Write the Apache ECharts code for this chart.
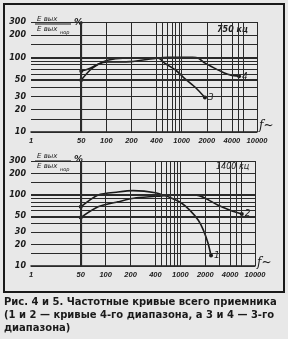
<!DOCTYPE html>
<html>
<head>
<meta charset="utf-8">
<script src="https://cdn.jsdelivr.net/npm/echarts@6/dist/echarts.min.js"></script>
<style>
html,body{margin:0;padding:0;background:#e8e8e8;}
#c{width:288px;height:339px;}
</style>
</head>
<body>
<div id="c"></div>
<script>
// ---- data ----
const xTickFreqs = [50, 100, 200, 400, 1000, 2000, 4000, 10000];
const xTickLabels = ['50', '100', '200', '400', '1000', '2000', '4000', '10000'];
const xOriginLabel = '1';
const yTickValues = [10, 20, 30, 50, 100, 200, 300];
const hGridValues = [10, 15, 20, 30, 40, 50, 60, 70, 80, 90, 100, 150, 200, 300];
const vGridFreqs = [50, 100, 200, 400, 500, 600, 700, 800, 900, 1000, 2000, 3000, 4000, 5000, 6000, 10000];

// top panel: 750 кц (curves 3 and 4)
const c3Freq = [50, 64, 81, 103, 158, 430, 537, 800, 1072, 1485, 1900];
const c3Val  = [50, 68, 82, 92, 98, 98, 84, 68, 53, 39, 29];
const c4Freq = [50, 64, 81, 103, 194, 400, 622, 1350, 1590, 1910, 2470, 3250, 3900, 5200];
const c4Val  = [66, 72, 82, 87, 88, 98, 101, 101, 98, 84, 72, 62, 58, 56];
// bottom panel: 1400 кц (curves 1 and 2)
const c1Freq = [50, 81, 141, 214, 400, 730, 1030, 1300, 1650, 1900, 2160, 2350];
const c1Val  = [68, 100, 110, 115, 107, 90, 77, 61, 44, 32, 21, 14];
const c2Freq = [50, 81, 141, 234, 500, 910, 1500, 2000, 2830, 4000, 6150];
const c2Val  = [48, 68, 80, 91, 97, 100, 100, 90, 72, 61, 54];

const panelTitles = ['750 кц', '1400 кц'];
const curveNames = ['3', '4', '1', '2'];
const caption = [
  'Рис. 4 и 5. Частотные кривые всего приемника',
  '(1 и 2 — кривые 4-го диапазона, а 3 и 4 — 3-го',
  'диапазона)'
];

// ---- axis mapping (frequency -> tick index of the drawn scale) ----
function xPos(f) {
  const t = xTickFreqs;
  if (f <= t[0]) return 0;
  for (let i = 0; i < t.length - 1; i++) {
    if (f <= t[i + 1]) return i + Math.log(f / t[i]) / Math.log(t[i + 1] / t[i]);
  }
  return t.length - 1;
}
function pts(fr, v) { return fr.map((f, i) => [xPos(f), v[i]]); }

const ink = '#1a1a1a';
const bg = '#e8e8e8';
const yLabelFont = {fontFamily: 'DejaVu Sans', fontStyle: 'italic', fontWeight: 'bold', fontSize: 8, color: ink};
const xLabelFont = {fontFamily: 'Liberation Sans', fontStyle: 'italic', fontWeight: 'bold', fontSize: 7.5, color: ink};

function xAxisCfg(gi) {
  return {
    gridIndex: gi, type: 'value', min: -2, max: 7, interval: 1,
    axisLine: {show: true, lineStyle: {color: ink, width: 1.5}},
    axisTick: {show: false}, splitLine: {show: false},
    axisLabel: Object.assign({
      margin: 5, interval: 0,
      formatter: v => v === -2 ? xOriginLabel : (v >= 0 ? xTickLabels[v] : '')
    }, xLabelFont)
  };
}
function yAxisCfg(gi) {
  return {
    gridIndex: gi, type: 'log', logBase: 10, min: 10, max: 300,
    axisLine: {show: true, lineStyle: {color: ink, width: 1.2}},
    axisTick: {show: false}, splitLine: {show: false},
    axisLabel: Object.assign({margin: 5, customValues: yTickValues}, yLabelFont)
  };
}
function gridLines() {
  const d = [];
  hGridValues.forEach(v => d.push({yAxis: v, lineStyle: {width: (v === 100 || v === 50) ? 2 : 1}}));
  vGridFreqs.forEach(f => d.push({xAxis: xPos(f), lineStyle: {width: f === 50 ? 2 : 1}}));
  return {silent: true, symbol: 'none', label: {show: false}, animation: false,
          lineStyle: {color: '#2a2a2a', type: 'solid', width: 1}, emphasis: {disabled: true}, data: d};
}
function curve(name, data, gi, withGrid) {
  const n = data.length;
  const s = {
    type: 'line', name: name, xAxisIndex: gi, yAxisIndex: gi, data: data,
    smooth: 0.25, animation: false,
    lineStyle: {color: ink, width: 1.6},
    itemStyle: {color: ink},
    symbol: 'circle',
    symbolSize: (v, p) => (p.dataIndex === 0 || p.dataIndex === n - 1) ? 4 : 0,
    endLabel: {show: true, formatter: name, distance: 3,
               fontFamily: 'DejaVu Sans', fontStyle: 'italic', fontSize: 9, color: ink}
  };
  if (withGrid) s.markLine = gridLines();
  return s;
}

const chart = echarts.init(document.getElementById('c'), null, {renderer: 'canvas'});
const tFont = 'italic 7px "DejaVu Sans"';
function fraction(x, y) {
  return [
    {type: 'text', left: x + 2, top: y - 8, style: {text: 'E вых', font: tFont, fill: ink}},
    {type: 'line', shape: {x1: x, y1: y, x2: x + 36, y2: y}, style: {stroke: ink, lineWidth: 1}},
    {type: 'text', left: x + 2, top: y + 2, style: {text: 'E вых', font: tFont, fill: ink}},
    {type: 'text', left: x + 25, top: y + 6, style: {text: 'нор', font: 'italic 5px "DejaVu Sans"', fill: ink}},
    {type: 'text', left: x + 39, top: y - 6, style: {text: '%', font: 'italic bold 9px "DejaVu Sans"', fill: ink}}
  ];
}
const graphics = [
  {type: 'rect', shape: {x: 4, y: 4, width: 280, height: 288}, style: {fill: 'none', stroke: ink, lineWidth: 2}},
  {type: 'rect', shape: {x: 33, y: 12, width: 46, height: 22}, style: {fill: bg}},
  {type: 'rect', shape: {x: 33, y: 151, width: 46, height: 22}, style: {fill: bg}}
].concat(fraction(35, 24), fraction(35, 161), [
  {type: 'text', left: 217, top: 26, style: {text: panelTitles[0], font: 'italic bold 8px "DejaVu Sans"', fill: ink}},
  {type: 'text', left: 216, top: 163, style: {text: panelTitles[1], font: 'italic 8px "DejaVu Sans"', fill: ink}},
  {type: 'text', left: 259, top: 120, style: {text: 'f~', font: 'italic 12px "DejaVu Serif"', fill: ink}},
  {type: 'text', left: 257, top: 257, style: {text: 'f~', font: 'italic 12px "DejaVu Serif"', fill: ink}},
  {type: 'text', left: 4, top: 297, style: {text: caption[0], font: 'bold 10px "DejaVu Sans"', fill: ink}},
  {type: 'text', left: 4, top: 310, style: {text: caption[1], font: 'bold 10px "DejaVu Sans"', fill: ink}},
  {type: 'text', left: 4, top: 323, style: {text: caption[2], font: 'bold 10px "DejaVu Sans"', fill: ink}}
]);

chart.setOption({
  backgroundColor: bg,
  animation: false,
  grid: [
    {left: 31, top: 22, width: 226, height: 110},
    {left: 31, top: 161, width: 224, height: 105}
  ],
  xAxis: [xAxisCfg(0), xAxisCfg(1)],
  yAxis: [yAxisCfg(0), yAxisCfg(1)],
  series: [
    curve(curveNames[0], pts(c3Freq, c3Val), 0, true),
    curve(curveNames[1], pts(c4Freq, c4Val), 0, false),
    curve(curveNames[2], pts(c1Freq, c1Val), 1, true),
    curve(curveNames[3], pts(c2Freq, c2Val), 1, false)
  ],
  graphic: graphics
});
</script>
</body>
</html>
